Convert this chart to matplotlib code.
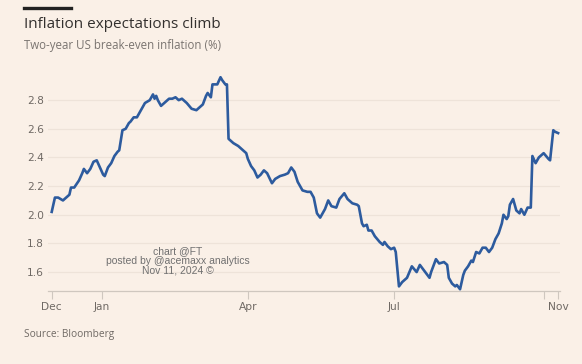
import matplotlib
matplotlib.use("Agg")
import matplotlib.pyplot as plt
from matplotlib.lines import Line2D

# days since 1 Dec 2023 (as laid out on the chart's axis) and break-even rate (%)
days = [0, 2, 4, 7, 9, 11, 12, 14, 17, 19, 20, 22, 24, 26, 28, 30, 32, 33, 35, 37,
        39, 41, 42, 44, 46, 48, 49, 51, 53, 56, 58, 61, 63, 64, 65, 66, 68, 70, 73, 75,
        77, 79, 81, 84, 87, 90, 92, 94, 96, 97, 99, 100, 103, 105, 106, 108, 109, 110, 113, 116,
        118, 121, 122, 124, 126, 128, 130, 132, 134, 137, 139, 142, 145, 147, 149, 151, 153, 156, 159, 161,
        163, 165, 167, 170, 172, 174, 177, 179, 182, 184, 187, 190, 191, 193, 194, 196, 197, 199, 201, 204,
        206, 207, 209, 211, 213, 214, 216, 218, 221, 224, 227, 229, 231, 233, 235, 236, 239, 241, 244, 246,
        247, 249, 251, 252, 254, 256, 257, 259, 261, 262, 264, 266, 268, 270, 272, 274, 276, 278, 280, 281,
        283, 284, 285, 287, 289, 291, 292, 294, 296, 298, 299, 301, 303, 306, 309, 310, 312, 313, 315]
breakeven = [2.02, 2.12, 2.12, 2.10, 2.12, 2.14, 2.19, 2.19, 2.24, 2.29, 2.32, 2.29, 2.32, 2.37, 2.38, 2.33, 2.28, 2.27, 2.33, 2.36,
             2.41, 2.44, 2.45, 2.59, 2.60, 2.64, 2.65, 2.68, 2.68, 2.74, 2.78, 2.80, 2.84, 2.81, 2.83, 2.80, 2.76, 2.78, 2.81, 2.81,
             2.82, 2.80, 2.81, 2.78, 2.74, 2.73, 2.75, 2.77, 2.83, 2.85, 2.82, 2.91, 2.91, 2.96, 2.94, 2.91, 2.91, 2.53, 2.50, 2.48,
             2.46, 2.43, 2.39, 2.34, 2.31, 2.26, 2.28, 2.31, 2.29, 2.22, 2.25, 2.27, 2.28, 2.29, 2.33, 2.30, 2.23, 2.17, 2.16, 2.16,
             2.12, 2.01, 1.98, 2.04, 2.10, 2.06, 2.05, 2.11, 2.15, 2.11, 2.08, 2.07, 2.06, 1.94, 1.92, 1.93, 1.89, 1.89, 1.85, 1.81,
             1.79, 1.81, 1.78, 1.76, 1.77, 1.74, 1.50, 1.53, 1.56, 1.64, 1.60, 1.65, 1.62, 1.59, 1.56, 1.60, 1.69, 1.66, 1.67, 1.65,
             1.56, 1.52, 1.50, 1.51, 1.48, 1.58, 1.61, 1.64, 1.68, 1.67, 1.74, 1.73, 1.77, 1.77, 1.74, 1.77, 1.83, 1.87, 1.94, 2.00,
             1.97, 1.99, 2.07, 2.11, 2.03, 2.01, 2.04, 2.00, 2.05, 2.05, 2.41, 2.36, 2.40, 2.43, 2.39, 2.38, 2.59, 2.58, 2.57]

tick_pos = [0, 31, 122, 213, 306, 315]
tick_labels = ["Dec", "Jan", "Apr", "Jul", "", "Nov"]
y_ticks = [1.6, 1.8, 2.0, 2.2, 2.4, 2.6, 2.8]

BG = "#FAF0E7"
GREY = "#6F6964"

fig = plt.figure(figsize=(5.82, 3.64), dpi=100, facecolor=BG)
ax = fig.add_axes([0.0825, 0.2014, 0.8795, 0.6022], facecolor=BG)

ax.plot(days, breakeven, color="#2D5B9E", lw=1.9, solid_joinstyle="round", zorder=3)

ax.set_xlim(-2.3, 316.1)
ax.set_ylim(1.47, 3.0)
ax.set_yticks(y_ticks)
ax.set_yticklabels([f"{v:.1f}" for v in y_ticks])
ax.set_xticks(tick_pos)
ax.set_xticklabels(tick_labels)
ax.grid(axis="y", color="#EEE3D9", lw=0.9)
ax.set_axisbelow(True)
for s in ["top", "right", "left"]:
    ax.spines[s].set_visible(False)
ax.spines["bottom"].set_color("#CFC7BF")
ax.spines["bottom"].set_linewidth(0.9)
ax.tick_params(axis="y", length=0, pad=3, labelsize=7.7, labelcolor=GREY)
ax.tick_params(axis="x", length=5.5, width=0.8, color="#CFC7BF", pad=2.5,
               labelsize=7.7, labelcolor=GREY)

# header
fig.add_artist(Line2D([24 / 582, 70.5 / 582], [1 - 7.5 / 364] * 2,
                      color="#222222", lw=2.4, transform=fig.transFigure))
fig.text(24 / 582, 1 - 24 / 364, "Inflation expectations climb", fontsize=11,
         color="#33302E", va="center", ha="left", family="Open Sans")
fig.text(24 / 582, 1 - 46 / 364, "Two-year US break-even inflation (%)", fontsize=8.3,
         color="#7A7470", va="center", ha="left", family="Open Sans")

# watermark
fig.text(178 / 582, 1 - 261 / 364, "chart @FT\nposted by @acemaxx analytics\nNov 11, 2024 \u00a9",
         fontsize=7.5, color="#707070", ha="center", va="center", linespacing=0.95,
         family="Liberation Sans")

fig.text(24 / 582, 1 - 334 / 364, "Source: Bloomberg", fontsize=7.3,
         color=GREY, ha="left", va="center", family="Open Sans")

fig.savefig("out.png", dpi=100, facecolor=BG)
